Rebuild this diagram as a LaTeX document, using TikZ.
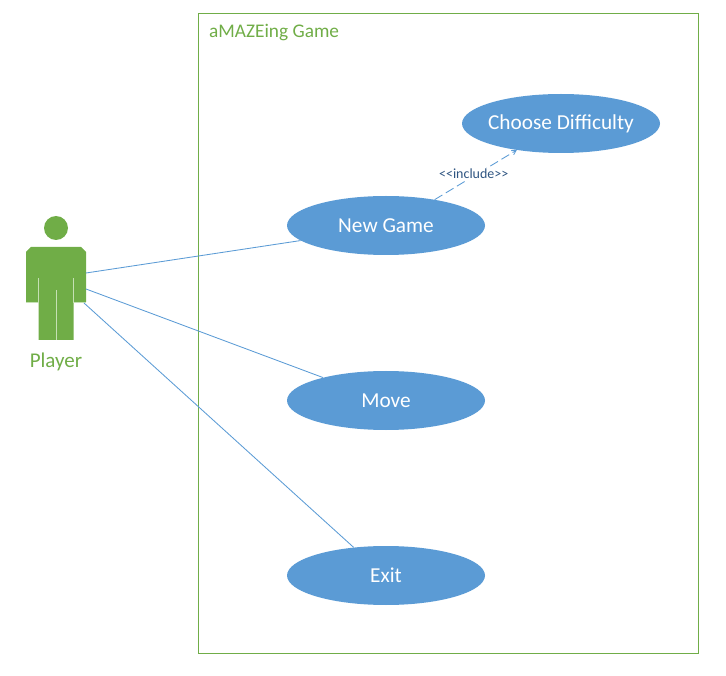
\documentclass[tikz,border=0pt]{standalone}
\usepackage{fontspec}
\setmainfont{Carlito}
\usetikzlibrary{arrows, positioning, shapes.geometric}
\definecolor{ucblue}{RGB}{91, 155, 213}
\definecolor{ucgreen}{RGB}{112, 173, 71}
\definecolor{uclight}{RGB}{197, 224, 180}
\definecolor{ucdark}{RGB}{47, 85, 130}
\tikzset{
    usecase/.style={ellipse, fill=ucblue, text=white, minimum width=198pt, minimum height=59pt, inner ysep=0pt, inner xsep=-10pt, font=\fontsize{21.3}{25}\selectfont},
    assoc/.style={draw=ucblue, line width=0.85pt},
    greentext/.style={text=ucgreen, inner sep=0pt}
}
\begin{document}
\begin{tikzpicture}[x=1pt, y=-1pt]
    \useasboundingbox (0,0) rectangle (726,676);
    \draw[ucgreen, line width=0.8pt] (198,13) rectangle (698,653);
    \node[greentext, anchor=west, font=\fontsize{19.3}{23}\selectfont] (system) at (209,33) {aMAZEing Game};

    \node[usecase] (difficulty) at (561,123.5) {Choose Difficulty};
    \node[usecase] (newgame) at (386,225.5) {New Game};
    \node[usecase] (move) at (386,400.5) {Move};
    \node[usecase] (exit) at (386,575.5) {Exit};

    % player figure
    \fill[ucgreen] (56,228) circle (12);
    \fill[ucgreen] (31,247) -- (81,247) -- (86,252) -- (86,302) -- (73.5,302) -- (73.5,340) -- (38.5,340) -- (38.5,302) -- (26,302) -- (26,252) -- cycle;
    \draw[uclight, line width=0.9pt] (38.5,278) -- (38.5,302) -- (26,302);
    \draw[uclight, line width=0.9pt] (73.5,278) -- (73.5,302) -- (86,302);
    \draw[uclight, line width=0.9pt] (56,290) -- (56,340);
    \node[greentext, font=\fontsize{21}{25}\selectfont] (player) at (56,362) {Player};
    \coordinate (pa) at (86,273);
    \coordinate (pb) at (86,289);
    \coordinate (pc) at (84,303);

    \draw[assoc] (pa) -- (newgame.190);
    \draw[assoc] (pb) -- (move.160);
    \draw[assoc] (pc) -- (exit.139);
    \draw[assoc, dash pattern=on 9pt off 4pt, ->, >=angle 60] (newgame.28) -- node[fill=white, inner sep=1pt, text=ucdark, xshift=-2pt, yshift=1pt, font=\fontsize{14}{16}\selectfont] (include) {{<}{<}include{>}{>}} (difficulty.211);
\end{tikzpicture}
\end{document}
